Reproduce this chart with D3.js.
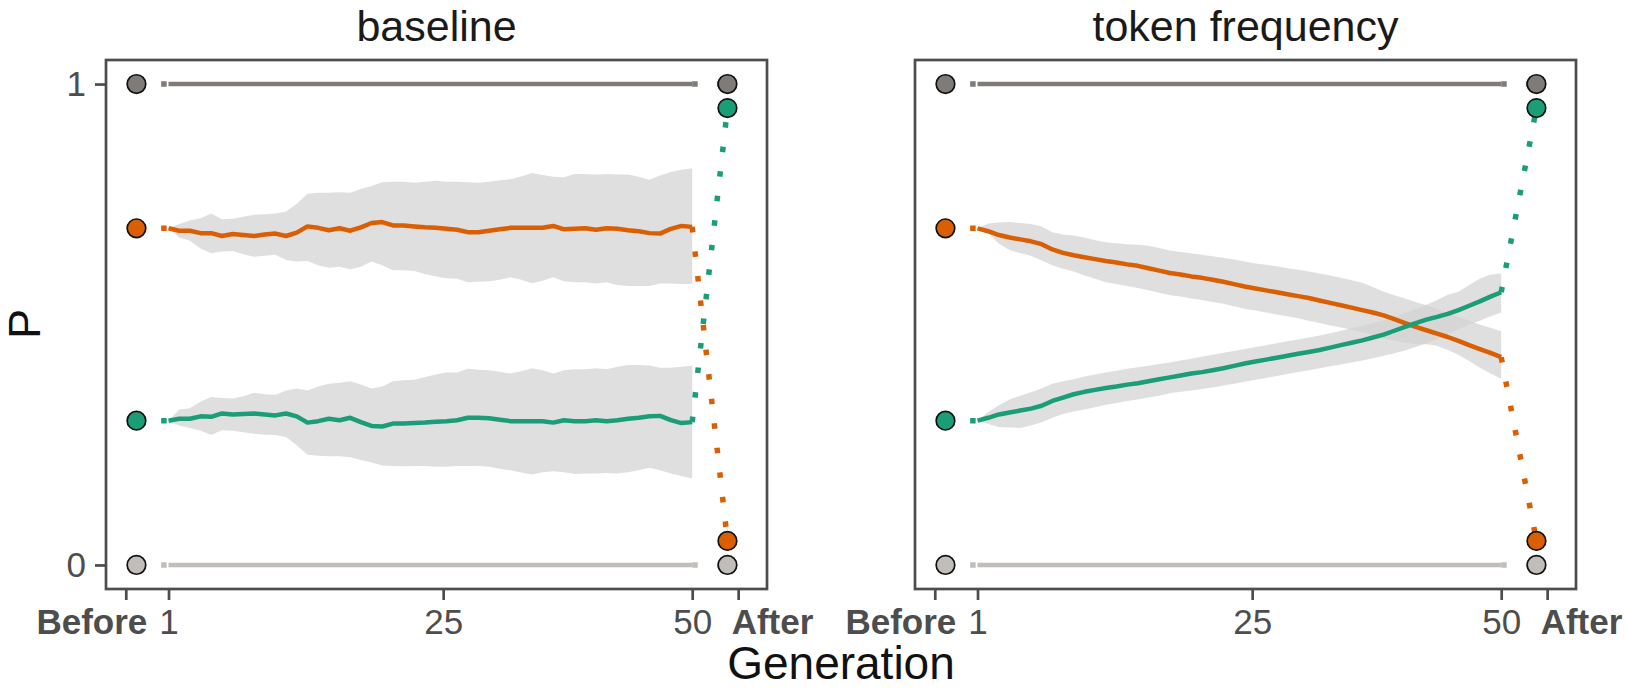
<!DOCTYPE html>
<html>
<head>
<meta charset="utf-8">
<script src="https://cdn.jsdelivr.net/npm/d3@7"></script>
<style>
  body { margin: 0; background: #fff; }
  text { font-family: "Liberation Sans", Arial, sans-serif; }
</style>
</head>
<body>
<svg width="1626" height="691"></svg>
<script>

// generations on the x axis
const generations = [1,2,3,4,5,6,7,8,9,10,11,12,13,14,15,16,17,18,19,20,
  21,22,23,24,25,26,27,28,29,30,31,32,33,34,35,36,37,38,39,40,
  41,42,43,44,45,46,47,48,49,50];

const panelTitles = ['baseline', 'token frequency'];
const xTickLabels = ['Before', '1', '25', '50', 'After'];
const xTickGens = [-3, 1, 26.7, 50, 54.3];
const yTickValues = [0, 1];

// before / after points: top grey, orange, green, bottom grey
const pointNames = ['top', 'orange', 'green', 'bottom'];
const pointColors = ['#7f7b78', '#d95f02', '#1b9e77', '#c1bdb9'];
const beforeP = [1, 0.70, 0.30, 0];
const afterP = [1, 0.05, 0.95, 0];

// baseline panel
const baseOrange = [0.700,0.695,0.695,0.690,0.690,0.684,0.688,0.686,0.684,0.687,0.689,0.684,0.691,0.704,0.701,0.696,0.700,0.695,0.702,0.711,
  0.713,0.706,0.706,0.704,0.702,0.701,0.699,0.697,0.692,0.692,0.695,0.698,0.701,0.701,0.701,0.701,0.705,0.698,0.699,0.700,
  0.697,0.700,0.699,0.696,0.694,0.690,0.689,0.699,0.705,0.703];
const baseOrangeHi = [0.700,0.709,0.716,0.721,0.731,0.719,0.720,0.724,0.728,0.729,0.731,0.735,0.751,0.772,0.774,0.774,0.775,0.774,0.782,0.788,
  0.796,0.797,0.797,0.795,0.797,0.799,0.797,0.797,0.796,0.795,0.797,0.800,0.802,0.808,0.815,0.811,0.807,0.806,0.813,0.813,
  0.812,0.813,0.812,0.812,0.807,0.801,0.810,0.817,0.822,0.825];
const baseOrangeLo = [0.700,0.681,0.674,0.658,0.648,0.652,0.653,0.646,0.641,0.643,0.645,0.634,0.631,0.632,0.623,0.618,0.620,0.615,0.620,0.631,
  0.623,0.613,0.613,0.611,0.605,0.600,0.596,0.595,0.588,0.589,0.590,0.593,0.598,0.593,0.586,0.591,0.598,0.590,0.588,0.588,
  0.585,0.588,0.582,0.580,0.580,0.580,0.585,0.585,0.584,0.584];
const baseGreen = [0.300,0.304,0.304,0.309,0.308,0.315,0.313,0.314,0.315,0.313,0.311,0.315,0.309,0.296,0.299,0.304,0.301,0.306,0.297,0.289,
  0.288,0.294,0.294,0.295,0.296,0.298,0.299,0.301,0.306,0.306,0.305,0.302,0.299,0.299,0.299,0.299,0.296,0.301,0.299,0.299,
  0.301,0.299,0.301,0.304,0.306,0.309,0.310,0.301,0.295,0.297];
const baseGreenHi = [0.300,0.323,0.326,0.340,0.349,0.347,0.346,0.351,0.358,0.355,0.354,0.363,0.367,0.363,0.371,0.377,0.379,0.382,0.375,0.367,
  0.371,0.382,0.384,0.385,0.391,0.396,0.400,0.400,0.408,0.406,0.405,0.402,0.398,0.403,0.409,0.405,0.398,0.405,0.407,0.407,
  0.409,0.407,0.412,0.416,0.416,0.415,0.410,0.410,0.412,0.414];
const baseGreenLo = [0.300,0.290,0.285,0.279,0.270,0.280,0.279,0.276,0.273,0.271,0.270,0.266,0.249,0.229,0.227,0.226,0.226,0.224,0.218,0.213,
  0.207,0.206,0.205,0.206,0.206,0.204,0.204,0.206,0.206,0.206,0.204,0.200,0.197,0.192,0.188,0.193,0.195,0.193,0.189,0.190,
  0.190,0.191,0.190,0.193,0.197,0.202,0.197,0.190,0.185,0.180];

// token frequency panel
const tokOrange = [0.700,0.694,0.686,0.681,0.677,0.673,0.667,0.656,0.649,0.644,0.640,0.636,0.632,0.629,0.625,0.622,0.617,0.612,0.607,0.604,
  0.600,0.597,0.593,0.589,0.584,0.579,0.575,0.571,0.567,0.563,0.559,0.555,0.550,0.545,0.540,0.535,0.530,0.525,0.519,0.511,
  0.503,0.495,0.488,0.481,0.474,0.466,0.457,0.449,0.441,0.432];
const tokOrangeHi = [0.700,0.710,0.712,0.713,0.711,0.709,0.704,0.692,0.687,0.685,0.681,0.675,0.671,0.669,0.667,0.666,0.664,0.659,0.654,0.651,
  0.648,0.645,0.642,0.639,0.635,0.631,0.627,0.624,0.621,0.617,0.614,0.610,0.606,0.602,0.597,0.592,0.587,0.578,0.568,0.561,
  0.554,0.547,0.540,0.532,0.524,0.516,0.508,0.500,0.493,0.486];
const tokOrangeLo = [0.700,0.690,0.668,0.655,0.648,0.643,0.633,0.623,0.616,0.610,0.602,0.595,0.588,0.584,0.580,0.576,0.571,0.566,0.561,0.558,
  0.554,0.551,0.547,0.543,0.538,0.533,0.529,0.525,0.521,0.517,0.513,0.508,0.503,0.498,0.494,0.489,0.484,0.478,0.471,0.466,
  0.462,0.459,0.459,0.456,0.447,0.437,0.424,0.410,0.398,0.387];
const tokGreen = [0.300,0.306,0.313,0.317,0.321,0.325,0.331,0.341,0.348,0.355,0.360,0.364,0.368,0.371,0.375,0.378,0.382,0.386,0.390,0.394,
  0.398,0.401,0.405,0.409,0.414,0.419,0.423,0.427,0.431,0.435,0.439,0.443,0.447,0.452,0.457,0.462,0.467,0.473,0.479,0.487,
  0.495,0.503,0.510,0.516,0.522,0.530,0.539,0.548,0.558,0.567];
const tokGreenHi = [0.300,0.318,0.332,0.344,0.352,0.359,0.367,0.377,0.382,0.386,0.392,0.396,0.400,0.404,0.408,0.411,0.414,0.418,0.421,0.425,
  0.429,0.433,0.437,0.441,0.445,0.449,0.453,0.457,0.461,0.465,0.469,0.473,0.477,0.482,0.487,0.492,0.497,0.503,0.509,0.516,
  0.524,0.532,0.541,0.551,0.562,0.568,0.582,0.595,0.604,0.606];
const tokGreenLo = [0.300,0.293,0.287,0.286,0.285,0.290,0.297,0.306,0.314,0.319,0.323,0.328,0.333,0.337,0.341,0.344,0.348,0.352,0.357,0.360,
  0.363,0.366,0.369,0.373,0.377,0.381,0.385,0.389,0.393,0.397,0.401,0.405,0.409,0.413,0.417,0.421,0.425,0.430,0.435,0.440,
  0.446,0.453,0.461,0.470,0.480,0.490,0.500,0.508,0.517,0.525];

const panels = [
  { title: panelTitles[0], left: 106, orange: baseOrange, orangeLo: baseOrangeLo, orangeHi: baseOrangeHi,
    green: baseGreen, greenLo: baseGreenLo, greenHi: baseGreenHi },
  { title: panelTitles[1], left: 915, orange: tokOrange, orangeLo: tokOrangeLo, orangeHi: tokOrangeHi,
    green: tokGreen, greenLo: tokGreenLo, greenHi: tokGreenHi }
];

const beforeGen = -2;
const afterGen = 53.3;
const panelW = 661;
const panelTop = 60;
const panelBottom = 589;
const axisColor = '#4d4d4d';

let svg = d3.select('svg');

let yScale = d3.scaleLinear()
               .domain([-0.05, 1.05])
               .range([panelBottom, panelTop]);

panels.forEach(function(p, i) {

  let xScale = d3.scaleLinear()
                 .domain([-4.85, 57.0])
                 .range([p.left, p.left + panelW]);

  let g = svg.append('g');

  let area = d3.area()
               .x(function(d) { return xScale(d.g); })
               .y0(function(d) { return yScale(d.lo); })
               .y1(function(d) { return yScale(d.hi); });

  let line = d3.line()
               .x(function(d) { return xScale(d.g); })
               .y(function(d) { return yScale(d.p); });

  let orangeRows = generations.map(function(gen, j) {
    return { g: gen, p: p.orange[j], lo: p.orangeLo[j], hi: p.orangeHi[j] };
  });
  let greenRows = generations.map(function(gen, j) {
    return { g: gen, p: p.green[j], lo: p.greenLo[j], hi: p.greenHi[j] };
  });

  // ribbons
  [orangeRows, greenRows].forEach(function(rows) {
    g.append('path')
     .attr('d', area(rows))
     .attr('fill', '#d2d2d2')
     .attr('fill-opacity', 0.72);
  });

  // flat lines at 1 and 0
  [0, 3].forEach(function(k) {
    g.append('path')
     .attr('d', line([{ g: generations[0], p: beforeP[k] }, { g: generations[49], p: beforeP[k] }]))
     .attr('fill', 'none')
     .attr('stroke', pointColors[k])
     .attr('stroke-width', 4.5);
  });

  // mean lines
  g.append('path')
   .attr('d', line(orangeRows))
   .attr('fill', 'none')
   .attr('stroke', pointColors[1])
   .attr('stroke-width', 4.5)
   .attr('stroke-linejoin', 'round');
  g.append('path')
   .attr('d', line(greenRows))
   .attr('fill', 'none')
   .attr('stroke', pointColors[2])
   .attr('stroke-width', 4.5)
   .attr('stroke-linejoin', 'round');

  // dotted links before -> gen 1 and gen 50 -> after
  let firstP = [beforeP[0], p.orange[0], p.green[0], beforeP[3]];
  let lastP = [beforeP[0], p.orange[49], p.green[49], beforeP[3]];
  pointNames.forEach(function(name, k) {
    g.append('path')
     .attr('d', line([{ g: beforeGen, p: beforeP[k] }, { g: generations[0], p: firstP[k] }]))
     .attr('fill', 'none')
     .attr('stroke', pointColors[k])
     .attr('stroke-width', 5.5)
     .attr('stroke-dasharray', '5.5 19.2');
    g.append('path')
     .attr('d', line([{ g: generations[49], p: lastP[k] }, { g: afterGen, p: afterP[k] }]))
     .attr('fill', 'none')
     .attr('stroke', pointColors[k])
     .attr('stroke-width', 5.5)
     .attr('stroke-dasharray', '5.5 19.2');
  });

  // before / after points
  pointNames.forEach(function(name, k) {
    g.append('circle')
     .attr('cx', xScale(beforeGen))
     .attr('cy', yScale(beforeP[k]))
     .attr('r', 9.3)
     .attr('fill', pointColors[k])
     .attr('stroke', '#111')
     .attr('stroke-width', 1.7);
    g.append('circle')
     .attr('cx', xScale(afterGen))
     .attr('cy', yScale(afterP[k]))
     .attr('r', 9.3)
     .attr('fill', pointColors[k])
     .attr('stroke', '#111')
     .attr('stroke-width', 1.7);
  });

  // panel border
  g.append('rect')
   .attr('x', p.left)
   .attr('y', panelTop)
   .attr('width', panelW)
   .attr('height', panelBottom - panelTop)
   .attr('fill', 'none')
   .attr('stroke', axisColor)
   .attr('stroke-width', 2.7);

  // x axis
  let xAxis = d3.axisBottom(xScale)
                .tickValues(xTickGens)
                .tickFormat(function(d, j) { return xTickLabels[j]; })
                .tickSize(11)
                .tickSizeOuter(0)
                .tickPadding(9);

  let xg = g.append('g')
            .attr('transform', 'translate(0,' + panelBottom + ')')
            .call(xAxis);
  xg.select('.domain').remove();
  xg.selectAll('line').attr('stroke', axisColor).attr('stroke-width', 2.7);
  xg.selectAll('text')
    .attr('fill', axisColor)
    .style('font-size', '35px')
    .style('font-family', '"Liberation Sans", Arial, sans-serif')
    .style('font-weight', function(d, j) {
      return (j === 0 || j === 4) ? 'bold' : 'normal';
    })
    .attr('text-anchor', function(d, j) {
      if (j === 0) return 'end';
      if (j === 4) return 'start';
      return 'middle';
    })
    .attr('x', function(d, j) {
      if (j === 0) return 21;
      if (j === 4) return -7;
      return 0;
    });

  // panel title
  svg.append('text')
     .attr('x', p.left + panelW / 2)
     .attr('y', 41)
     .attr('text-anchor', 'middle')
     .style('font-size', '43px')
     .attr('fill', '#1a1a1a')
     .text(p.title);

  if (i === 0) {
    let yAxis = d3.axisLeft(yScale)
                  .tickValues(yTickValues)
                  .tickFormat(d3.format('d'))
                  .tickSize(11)
                  .tickSizeOuter(0)
                  .tickPadding(9);
    let yg = g.append('g')
              .attr('transform', 'translate(' + p.left + ',0)')
              .call(yAxis);
    yg.select('.domain').remove();
    yg.selectAll('line').attr('stroke', axisColor).attr('stroke-width', 2.7);
    yg.selectAll('text')
      .attr('fill', axisColor)
      .style('font-size', '35px')
      .style('font-family', '"Liberation Sans", Arial, sans-serif');
  }
});

// axis titles
svg.append('text')
   .attr('x', 841)
   .attr('y', 679)
   .attr('text-anchor', 'middle')
   .style('font-size', '46px')
   .attr('fill', '#111')
   .text('Generation');

svg.append('text')
   .attr('transform', 'translate(40,324) rotate(-90)')
   .attr('text-anchor', 'middle')
   .style('font-size', '45px')
   .attr('fill', '#111')
   .text('P');

</script>
</body>
</html>
